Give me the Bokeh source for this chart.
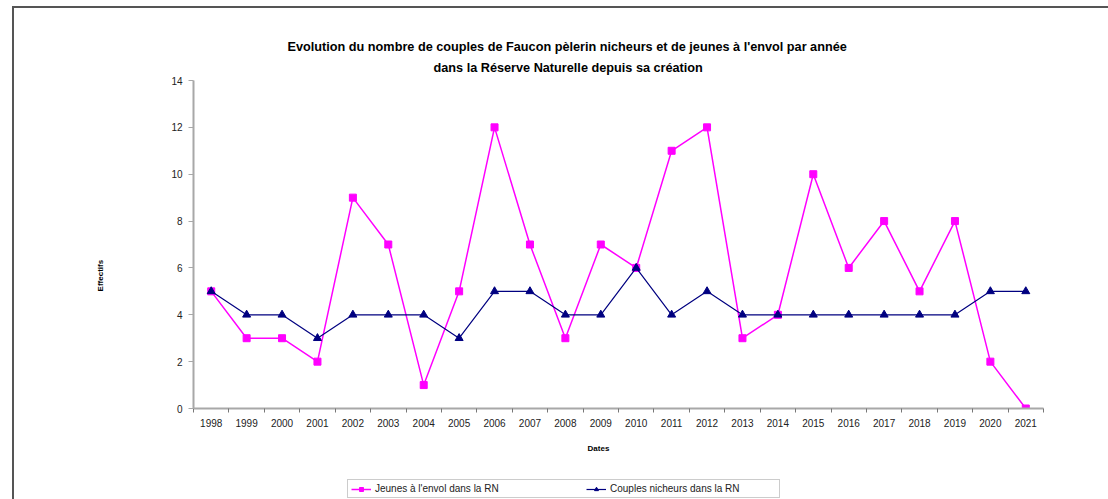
from bokeh.plotting import figure
from bokeh.layouts import column
from bokeh.models import FixedTicker, Legend, LegendItem, Range1d, Title
from bokeh.embed import file_html
from bokeh.resources import INLINE

years = [str(y) for y in range(1998, 2022)]
jeunes = [5, 3, 3, 2, 9, 7, 1, 5, 12, 7, 3, 7, 6, 11, 12, 3, 4, 10, 6, 8, 5, 8, 2, 0]
couples = [5, 4, 4, 3, 4, 4, 4, 3, 5, 5, 4, 4, 6, 4, 5, 4, 4, 4, 4, 4, 4, 4, 5, 5]
y_ticks = [0, 2, 4, 6, 8, 10, 12, 14]
title_lines = ["Evolution du nombre de couples de Faucon pèlerin nicheurs et de jeunes à l'envol par année",
               "dans la Réserve Naturelle depuis sa création"]
x_title = "Dates"
y_title = "Effectifs"
label_jeunes = "Jeunes à l'envol dans la RN"
label_couples = "Couples nicheurs dans la RN"

FONT = "Liberation Sans"
NB = "\u00a0"
PINK = "#ff00ff"
NAVY = "#000080"
n = len(years)
xs = [i + 0.5 for i in range(n)]

W = 1094
p = figure(width=W, height=447, output_backend="svg", toolbar_location=None,
           x_range=Range1d(0, n), y_range=Range1d(0, 14), title=None,
           min_border_left=179, min_border_right=65, min_border_top=72, min_border_bottom=47,
           background_fill_color="white", border_fill_color="white")
p.outline_line_color = None
p.xgrid.visible = False
p.ygrid.visible = False

# y axis
p.yaxis.ticker = FixedTicker(ticks=y_ticks)
p.yaxis.axis_line_color = "#a8a8a8"
p.yaxis.axis_line_width = 2
p.yaxis.major_tick_line_color = "#a8a8a8"
p.yaxis.major_tick_out = 5
p.yaxis.major_tick_in = 0
p.yaxis.minor_tick_line_color = None
p.yaxis.major_label_text_font = FONT
p.yaxis.major_label_text_font_size = "10px"
p.yaxis.major_label_text_color = "#222222"
p.yaxis.major_label_standoff = 6
p.yaxis.axis_label = y_title + NB * 28
p.yaxis.axis_label_text_font = FONT
p.yaxis.axis_label_text_font_size = "8px"
p.yaxis.axis_label_text_font_style = "bold"
p.yaxis.axis_label_text_color = "#000000"
p.yaxis.axis_label_standoff = 63

# x axis: labels at category centres, ticks at boundaries
p.xaxis.ticker = FixedTicker(ticks=xs, minor_ticks=list(range(n + 1)))
p.xaxis.major_label_overrides = {x: y for x, y in zip(xs, years)}
p.xaxis.axis_line_color = "#a8a8a8"
p.xaxis.axis_line_width = 2
p.xaxis.major_tick_line_color = None
p.xaxis.minor_tick_line_color = "#777777"
p.xaxis.minor_tick_out = 4
p.xaxis.minor_tick_in = 0
p.xaxis.major_label_text_font = FONT
p.xaxis.major_label_text_font_size = "10px"
p.xaxis.major_label_text_color = "#222222"
p.xaxis.major_label_standoff = 4
p.xaxis.axis_label = x_title + NB * 18
p.xaxis.axis_label_text_font = FONT
p.xaxis.axis_label_text_font_size = "8px"
p.xaxis.axis_label_text_font_style = "bold"
p.xaxis.axis_label_text_color = "#000000"
p.xaxis.axis_label_standoff = 14

# series
p.line(xs, jeunes, line_color=PINK, line_width=1.5)
p.scatter(xs, jeunes, marker="square", size=7, fill_color=PINK, line_color=PINK)
p.line(xs, couples, line_color=NAVY, line_width=1.2)
p.scatter(xs, couples, marker="triangle", size=8, fill_color=NAVY, line_color=NAVY)

# two-line title (added nearest-first)
for txt, off, so in zip(reversed(title_lines), [240, 94], [11, 0]):
    p.add_layout(Title(text=txt, align="left", offset=off, standoff=so,
                       text_font=FONT, text_font_size="12.7px", text_font_style="bold",
                       text_color="#000000"), "above")

# legend strip below the chart (its frame is aligned with the chart's frame)
q = figure(width=W, height=44, output_backend="svg", toolbar_location=None,
           x_range=Range1d(0, n), y_range=Range1d(100, 101), title=None,
           x_axis_location=None, y_axis_location=None,
           min_border=0, min_border_left=0, min_border_right=0, min_border_top=0, min_border_bottom=0,
           background_fill_color="white", border_fill_color="white")
q.outline_line_color = None
q.xgrid.visible = False
q.ygrid.visible = False
k1 = q.line(xs, jeunes, line_color=PINK, line_width=1.5, visible=False)
m1 = q.scatter(xs, jeunes, marker="square", size=7, fill_color=PINK, line_color=PINK, visible=False)
k2 = q.line(xs, couples, line_color=NAVY, line_width=1.2, visible=False)
m2 = q.scatter(xs, couples, marker="triangle", size=8, fill_color=NAVY, line_color=NAVY, visible=False)

legend = Legend(items=[LegendItem(label=label_jeunes, renderers=[k1, m1]),
                       LegendItem(label=label_couples, renderers=[k2, m2])],
                orientation="horizontal", location=(154, 1),
                padding=3, spacing=45, margin=0, glyph_width=20, glyph_height=10,
                label_height=10, label_width=166, label_standoff=4,
                label_text_font=FONT, label_text_font_size="10px", label_text_color="#222222",
                border_line_color="#999999", border_line_width=1.5,
                inactive_fill_alpha=0,
                background_fill_color="white", background_fill_alpha=1)
q.add_layout(legend)

layout = column(p, q, spacing=0)
layout.styles = {"margin-left": "12px", "margin-top": "6px",
                 "border-left": "2px solid #555555", "border-top": "2px solid #555555"}

open("out.html", "w").write(file_html(layout, INLINE))
